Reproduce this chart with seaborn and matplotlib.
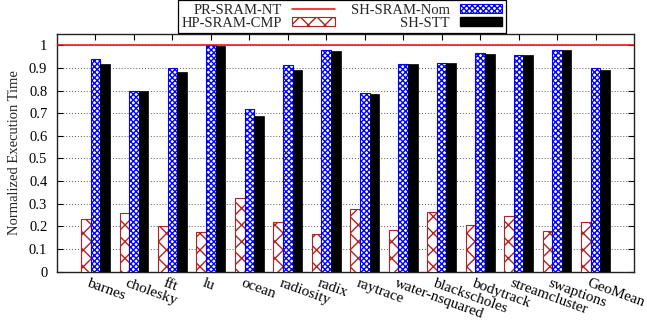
import matplotlib
matplotlib.use("Agg")
import matplotlib.pyplot as plt
from matplotlib.lines import Line2D
from matplotlib.patches import Patch
from matplotlib.transforms import ScaledTranslation
import numpy as np
import pandas as pd
import seaborn as sns

# Benchmarks and normalized execution times (PR-SRAM-NT = 1)
benchmarks = ["barnes", "cholesky", "fft", "lu", "ocean", "radiosity", "radix",
              "raytrace", "water-nsquared", "blackscholes", "bodytrack",
              "streamcluster", "swaptions", "GeoMean"]
pr_sram_nt = 1.0
hp_sram_cmp = [0.231, 0.258, 0.201, 0.175, 0.324, 0.218, 0.164,
               0.276, 0.182, 0.262, 0.204, 0.244, 0.178, 0.219]
sh_sram_nom = [0.941, 0.800, 0.900, 1.000, 0.720, 0.911, 0.978,
               0.791, 0.916, 0.924, 0.966, 0.957, 0.981, 0.901]
sh_stt = [0.917, 0.800, 0.884, 0.998, 0.686, 0.890, 0.973,
          0.787, 0.916, 0.921, 0.961, 0.957, 0.979, 0.893]
yticks = [0, 0.1, 0.2, 0.3, 0.4, 0.5, 0.6, 0.7, 0.8, 0.9, 1]
ytick_labels = ["0", "0.1", "0.2", "0.3", "0.4", "0.5", "0.6", "0.7",
                "0.8", "0.9", "1"]

series = ["HP-SRAM-CMP", "SH-SRAM-Nom", "SH-STT"]
df = pd.DataFrame({
    "benchmark": benchmarks * 3,
    "config": np.repeat(series, len(benchmarks)),
    "time": hp_sram_cmp + sh_sram_nom + sh_stt,
})

sns.set_style("ticks")
plt.rcParams["font.family"] = ["Liberation Serif", "DejaVu Serif"]
plt.rcParams["hatch.linewidth"] = 1.0

RED = "#b22222"
BLUE = "#0000ff"

fig = plt.figure(figsize=(6.47, 3.21), dpi=100)
ax = fig.add_axes([0.0881, 0.1542, 0.8918, 0.7398])

sns.barplot(data=df, x="benchmark", y="time", hue="config", hue_order=series,
            order=benchmarks, palette=["white", "white", "black"],
            width=0.75, errorbar=None, legend=False, ax=ax, zorder=3)

styles = [
    dict(fc="white", ec=RED, hatch="xx", lw=0.8),
    dict(fc="white", ec=BLUE, hatch="xxxxxx", lw=0.8),
    dict(fc="black", ec="black", hatch=None, lw=0.5),
]
for cont, st in zip(ax.containers, styles):
    for p in cont:
        p.set_facecolor(st["fc"])
        p.set_edgecolor(st["ec"])
        p.set_linewidth(st["lw"])
        if st["hatch"]:
            p.set_hatch(st["hatch"])

ax.axhline(pr_sram_nt, color="#ff0000", lw=1.1, zorder=4)

ax.set_xlim(-1, 14)
ax.set_ylim(0, 1.05)
ax.set_yticks(yticks)
ax.set_yticklabels(ytick_labels, fontsize=10.5)
ax.set_xlabel("")
ax.set_ylabel("Normalized Execution Time", fontsize=10.5)
ax.yaxis.set_label_coords(-0.0624, 0.5)

ax.grid(axis="y", linestyle=(0, (1, 2)), color="#555555", lw=0.7, zorder=0)
ax.set_axisbelow(True)

ax.tick_params(axis="both", direction="in", length=4, width=0.8,
               top=True, right=True, colors="black")
ax.tick_params(axis="y", pad=7)
ax.tick_params(axis="x", pad=4)
for s in ax.spines.values():
    s.set_visible(True)
    s.set_linewidth(1.0)
    s.set_color("#222222")

ax.set_xticks(range(len(benchmarks)))
ax.set_xticklabels(benchmarks, fontsize=11, rotation=-20, ha="left",
                   va="top", rotation_mode="anchor")
offset = ScaledTranslation(-6 / 100, 0, fig.dpi_scale_trans)
for lbl in ax.get_xticklabels():
    lbl.set_transform(lbl.get_transform() + offset)

handles = [
    Line2D([0], [0], color="#ff0000", lw=1.1),
    Patch(facecolor="white", edgecolor=RED, hatch="xx", lw=0.8),
    Patch(facecolor="white", edgecolor=BLUE, hatch="xxxxxx", lw=0.8),
    Patch(facecolor="black", edgecolor="black"),
]
labels = ["PR-SRAM-NT", "HP-SRAM-CMP", "SH-SRAM-Nom", "SH-STT"]
leg = fig.legend(handles, labels, ncol=2, loc="upper center",
                 bbox_to_anchor=(0.5286, 1.0), bbox_transform=fig.transFigure,
                 markerfirst=False, fontsize=10.5, frameon=True,
                 fancybox=False, framealpha=1, edgecolor="black",
                 borderpad=0.25, labelspacing=0.0, handlelength=2.9,
                 handleheight=0.55, handletextpad=0.7, columnspacing=1.1,
                 borderaxespad=0)
leg.get_frame().set_linewidth(0.9)

fig.savefig("out.png", dpi=100)
